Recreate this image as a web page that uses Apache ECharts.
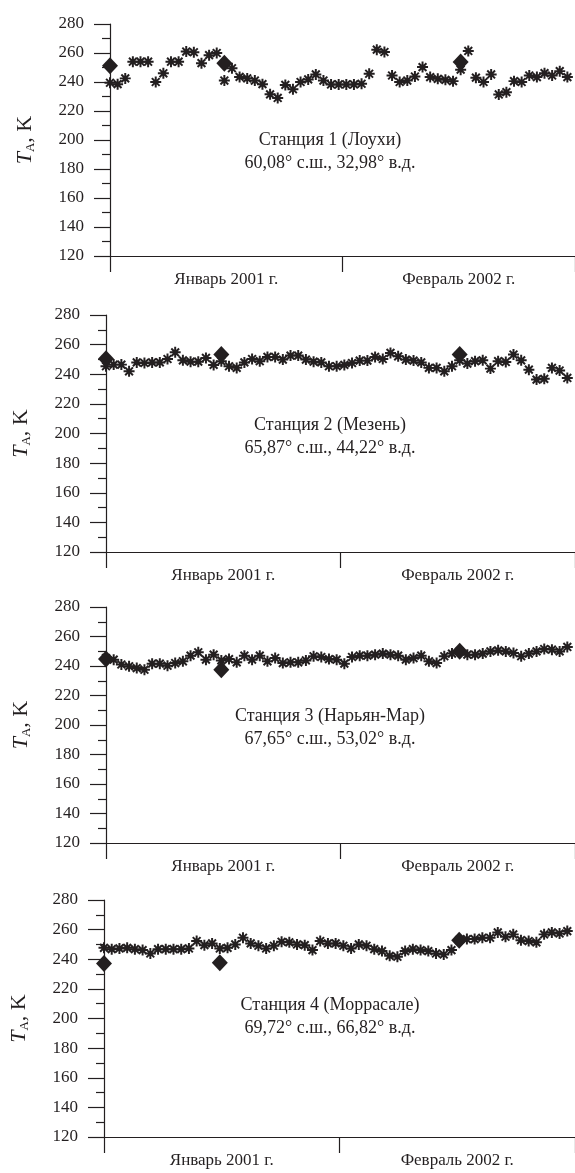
<!DOCTYPE html>
<html>
<head>
<meta charset="utf-8">
<script src="https://cdn.jsdelivr.net/npm/echarts@6/dist/echarts.min.js"></script>
<style>
html, body { margin: 0; padding: 0; background: #fff; }
#chart { width: 575px; height: 1173px; }
</style>
</head>
<body>
<div id="chart"></div>
<script>
// подписи месяцев по оси X
var months = ['Январь 2001 г.', 'Февраль 2002 г.'];
// дни с маркерами-ромбами (1 и 16 января, 16 февраля)
var diamondDays = [0, 15, 46];

// станция 1 (Лоухи)
var st1 = [239.5, 238.5, 242.5, 254, 254, 254, 240, 246, 254, 254, 261, 260.5, 253, 258.5, 260, 241,
    249.5, 243.5, 242.5, 241, 238.5, 231.5, 229, 238, 235, 240, 241.8, 245.2, 241, 238.3, 238.3, 238.3,
    238.3, 238.8, 245.7, 262.3, 260.7, 244.5, 240, 241, 243.8, 250.3, 243.4, 242.2, 241.5, 240.6, 248.5,
    261.4, 243, 240, 245.2, 231.4, 233, 240.6, 240, 244.5, 243.4, 246.1, 244.5, 247.5, 243.4];
var dia1 = [251.2, 252.9, 253.8];

// станция 2 (Мезень)
var st2 = [245.4, 246.5, 246.5, 242, 248, 247.6, 248, 248, 250.3, 254.8, 249.4, 248.5, 248.5, 251, 246.3,
    248.8, 245.4, 244.3, 248, 250.3, 248.8, 251.7, 251.7, 249.9, 252.6, 252.6, 249.9, 248.5, 248, 245.4,
    245.4, 246.3, 247.6, 249.2, 249.2, 251.7, 250.3, 254.4, 252.1, 249.9, 249.2, 248, 244.3, 244.3, 242,
    245.4, 249.4, 247.2, 248.8, 249.4, 243.8, 248.8, 248.3, 253.3, 249.4, 243.1, 236.4, 236.9, 244.3,
    242.5, 237.5];
var dia2 = [250.5, 253.3, 253.3];

// станция 3 (Нарьян-Мар)
var st3 = [245.4, 244.3, 241, 239.8, 238.6, 237.5, 241.6, 241.6, 240.2, 242, 243.2, 247, 249.3, 244.3,
    247.7, 243.8, 244.7, 242.5, 247, 244.3, 247, 243.2, 245.4, 242, 242.5, 242.5, 243.8, 246.6, 246.1,
    244.7, 244.3, 241.6, 246.1, 247, 247, 247.7, 248.4, 247.7, 247, 244.3, 245.4, 247, 243.2, 242, 246.6,
    248.4, 249.9, 247.7, 247.7, 248.4, 249.9, 250.6, 249.9, 248.8, 246.6, 248.4, 249.9, 251.5, 251.1,
    249.9, 252.9];
var dia3 = [244.7, 237.5, 250];

// станция 4 (Моррасале)
var st4 = [247.7, 246.8, 247.3, 247.7, 246.8, 246.2, 243.9, 246.8, 246.8, 246.8, 246.8, 247.3, 252.3,
    249.5, 250.7, 247.3, 247.7, 250, 254.5, 250.7, 249.1, 247.3, 249.1, 251.8, 251.4, 250, 249.5, 246.2,
    252.3, 250.7, 250.7, 249.1, 247.3, 250, 249.1, 246.8, 245.5, 242.3, 241.7, 245.5, 246.8, 246.2, 245.5,
    243.9, 243.2, 246.2, 252.9, 253.6, 253.6, 254.5, 254.5, 258.1, 255.2, 256.8, 252.9, 252.3, 251.4,
    256.8, 258.1, 257.4, 259];
var dia4 = [237.2, 237.6, 252.9];

var stations = [
    ['Станция 1 (Лоухи)', '60,08° с.ш., 32,98° в.д.'],
    ['Станция 2 (Мезень)', '65,87° с.ш., 44,22° в.д.'],
    ['Станция 3 (Нарьян-Мар)', '67,65° с.ш., 53,02° в.д.'],
    ['Станция 4 (Моррасале)', '69,72° с.ш., 66,82° в.д.']
];
var stars = [st1, st2, st3, st4];
var diamonds = [dia1, dia2, dia3, dia4];

var ink = '#231f20';
var serif = '"Liberation Serif", "DejaVu Serif", serif';
// звёздочка-маркер (4 перекрещённые полосы)
var starPath = 'path://M0 41L100 41L100 59L0 59Z M41 0L59 0L59 100L41 100Z ' +
    'M21 8.2L91.8 79L79 91.8L8.2 21Z M91.8 21L21 91.8L8.2 79L79 8.2Z';

var panels = [
    {left: 110, top: 24, height: 232, textY: 140},
    {left: 106, top: 315, height: 237, textY: 425},
    {left: 106, top: 607, height: 236, textY: 716},
    {left: 104, top: 900, height: 237, textY: 1005}
];

var grid = [], xAxis = [], yAxis = [], series = [], graphic = [];

panels.forEach(function (p, k) {
    grid.push({left: p.left, top: p.top, height: p.height, right: 0});

    // ось дней
    xAxis.push({
        type: 'value', gridIndex: k, min: 0, max: 61,
        axisLine: {show: true, lineStyle: {color: ink, width: 1.2}},
        axisTick: {show: false}, axisLabel: {show: false}, splitLine: {show: false}
    });
    // подписи месяцев
    xAxis.push({
        type: 'category', gridIndex: k, position: 'bottom', data: months,
        boundaryGap: true,
        axisLine: {show: false},
        axisTick: {show: true, length: 16, lineStyle: {color: ink, width: 1.2}},
        axisLabel: {margin: 15, color: ink, fontFamily: serif, fontSize: 17},
        splitLine: {show: false}
    });

    yAxis.push({
        type: 'value', gridIndex: k, min: 120, max: 280, interval: 20,
        name: '{t|T}{s|A}{n|, K}',
        nameLocation: 'middle', nameGap: 73, nameRotate: 90,
        nameTextStyle: {
            color: ink, fontFamily: serif,
            rich: {
                t: {fontSize: 22, fontStyle: 'italic', fontFamily: serif, color: ink},
                s: {fontSize: 13, fontFamily: serif, color: ink, padding: [10, 0, 0, 0]},
                n: {fontSize: 22, fontFamily: serif, color: ink}
            }
        },
        axisLine: {show: true, lineStyle: {color: ink, width: 1.2}},
        axisTick: {show: true, length: 16, lineStyle: {color: ink, width: 1.2}},
        minorTick: {show: true, splitNumber: 2, length: 8, lineStyle: {color: ink, width: 1.2}},
        axisLabel: {margin: 26, color: ink, fontFamily: serif, fontSize: 17},
        splitLine: {show: false}
    });

    series.push({
        type: 'scatter', xAxisIndex: 2 * k, yAxisIndex: k,
        data: stars[k].map(function (v, i) { return [i, v]; }),
        symbol: starPath, symbolSize: 11,
        itemStyle: {color: ink, opacity: 1}, silent: true
    });
    series.push({
        type: 'scatter', xAxisIndex: 2 * k, yAxisIndex: k, z: 5,
        data: diamondDays.map(function (d, j) { return [d, diamonds[k][j]]; }),
        symbol: 'diamond', symbolSize: [16, 17],
        itemStyle: {color: ink, opacity: 1}, silent: true
    });

    graphic.push({
        type: 'text', x: 330, y: p.textY,
        style: {text: stations[k][0], align: 'center', verticalAlign: 'middle',
            fill: ink, font: '18px ' + serif}
    });
    graphic.push({
        type: 'text', x: 330, y: p.textY + 23,
        style: {text: stations[k][1], align: 'center', verticalAlign: 'middle',
            fill: ink, font: '18px ' + serif}
    });
});

var myChart = echarts.init(document.getElementById('chart'));
myChart.setOption({
    animation: false,
    backgroundColor: '#fff',
    grid: grid,
    xAxis: xAxis,
    yAxis: yAxis,
    series: series,
    graphic: graphic
});
</script>
</body>
</html>
